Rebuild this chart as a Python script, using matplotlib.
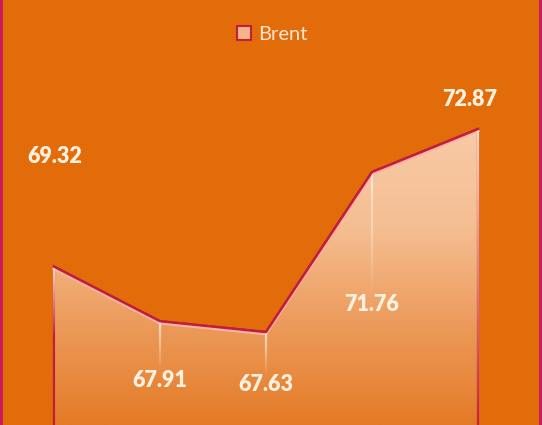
import numpy as np
import matplotlib
matplotlib.use("Agg")
import matplotlib.pyplot as plt
from matplotlib.patches import Polygon, Rectangle
from matplotlib.colors import LinearSegmentedColormap
from matplotlib.lines import Line2D
import matplotlib.transforms as mtransforms

categories = ["P1", "P2", "P3", "P4", "P5"]
values = [69.32, 67.91, 67.63, 71.76, 72.87]
series_name = "Brent"
label_texts = ["69.32", "67.91", "67.63", "71.76", "72.87"]

BG = "#E36C0A"
LINE = "#C01E3C"
BORDER = "#C81E5A"
TXT = "#FFF1E0"

fig = plt.figure(figsize=(5.42, 4.25), dpi=100, facecolor=BG)
ax = fig.add_axes([0, 0, 1, 1])
ax.set_facecolor(BG)
x = np.arange(len(values))
ax.set_xlim(-0.509, 4.604)
ax.set_ylim(65.23, 76.2)
ax.axis("off")

# gradient fill clipped to area polygon (base extends below the visible frame)
ymin = 64.5
verts = [(x[0], ymin)] + list(zip(x, values)) + [(x[-1], ymin)]
poly = Polygon(verts, closed=True, facecolor="none", edgecolor=LINE, lw=1.6, zorder=3)
ax.add_patch(poly)
cmap = LinearSegmentedColormap.from_list("g", ["#E47A26", "#EC9A5A", "#F5BE92", "#F8CAA6"])
grad = np.linspace(0, 1, 256).reshape(-1, 1)
top = max(values)
im = ax.imshow(grad, extent=[x[0], x[-1], 65.23, top], origin="lower", cmap=cmap,
               aspect="auto", zorder=2)
clip = Polygon(verts, closed=True, transform=ax.transData)
im.set_clip_path(clip)
ax.set_xlim(-0.509, 4.604)
ax.set_ylim(65.23, 76.2)

# light highlight under line
off = mtransforms.offset_copy(ax.transData, fig=fig, x=0, y=-2, units="dots")
ax.plot(x, values, color="#F7B4A2", lw=2.0, transform=off, zorder=3)
ax.plot(x, values, color=LINE, lw=1.8, zorder=4, solid_joinstyle="round")

# drop lines fading downward
fade_px = [70, 48, 42, 120, 300]
for xi, v, fp in zip(x, values, fade_px):
    n = 30
    disp_top = ax.transData.transform((xi, v))
    for k in range(n):
        y0 = disp_top[1] - fp * k / n
        y1 = disp_top[1] - fp * (k + 1) / n
        d0 = ax.transData.inverted().transform((disp_top[0], y0))[1]
        d1 = ax.transData.inverted().transform((disp_top[0], y1))[1]
        a = 0.9 * (1 - k / n)
        ax.plot([xi, xi], [d0, d1], color="#FFE9D6", alpha=a, lw=1.6,
                solid_capstyle="butt", zorder=3.5)

# data labels
offsets = [(1, 110), (0, -59), (0, -52), (0, -132), (-8, 30)]
for xi, v, t, (dx, dy) in zip(x, values, label_texts, offsets):
    ax.annotate(t, (xi, v), xytext=(dx, dy), textcoords="offset pixels",
                ha="center", va="center", color=TXT, fontsize=15.5,
                fontweight="heavy", family="Lato", zorder=6)

# legend
handle = Line2D([], [], marker="s", linestyle="none", markersize=9.5,
                markerfacecolor="#F4B48A", markeredgecolor=LINE, markeredgewidth=1.5)
leg = fig.legend([handle], [series_name], loc="center", bbox_to_anchor=(0.5, 0.918),
                 frameon=False, handletextpad=0.2, handlelength=1.0,
                 prop={"family": "Lato", "size": 14.5})
for t in leg.get_texts():
    t.set_color("#FCE6D2")

# figure side borders
fig.patches.append(Rectangle((0, 0), 3 / 542, 1, transform=fig.transFigure,
                             facecolor=BORDER, edgecolor="none", zorder=10))
fig.patches.append(Rectangle((1 - 3 / 542, 0), 3 / 542, 1, transform=fig.transFigure,
                             facecolor=BORDER, edgecolor="none", zorder=10))

fig.savefig("out.png", dpi=100, facecolor=BG)
